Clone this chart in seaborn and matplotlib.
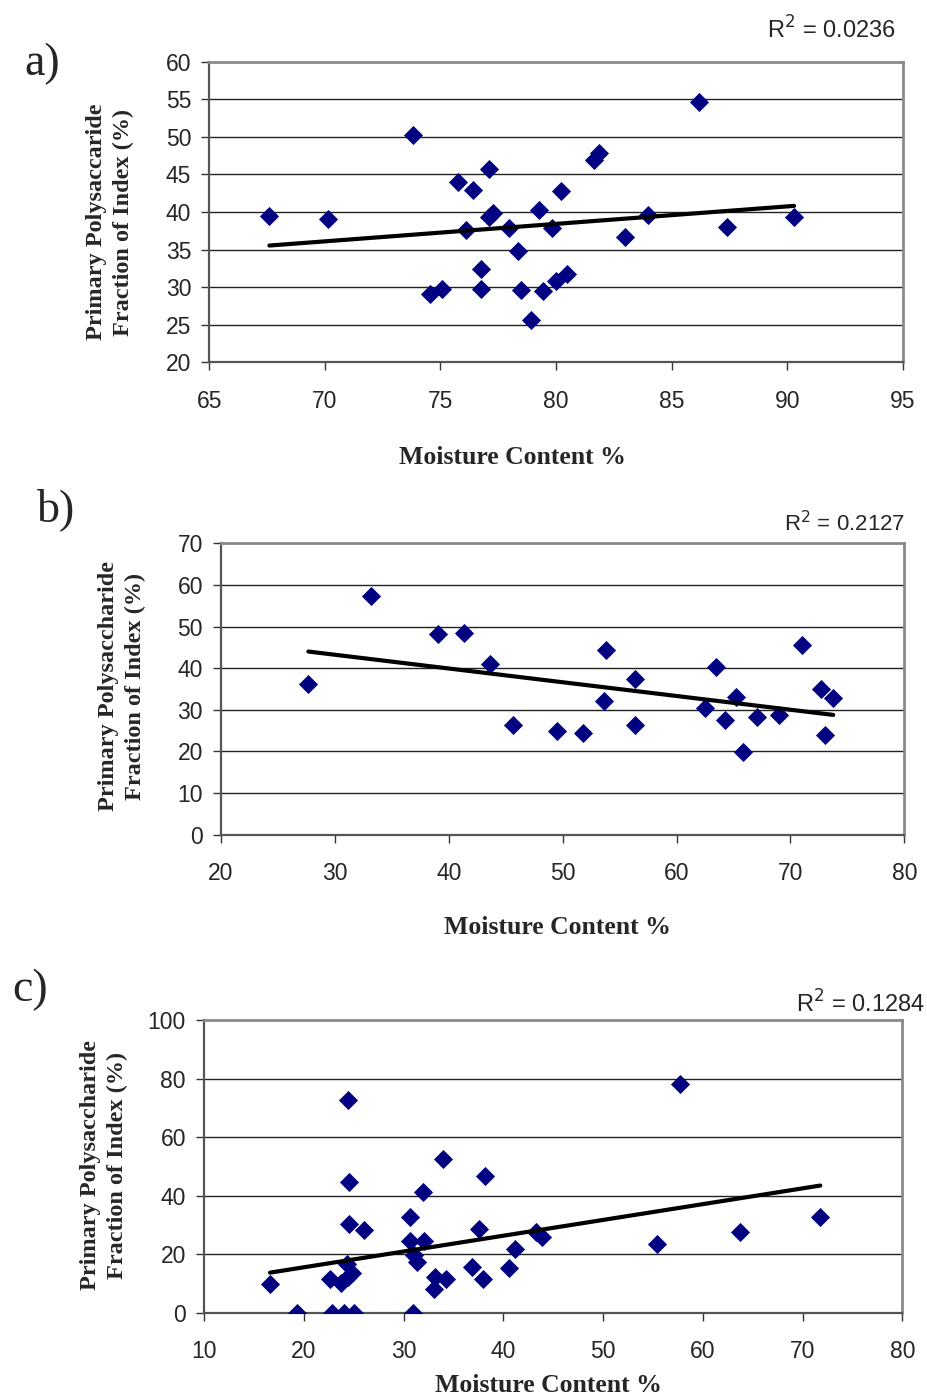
import matplotlib
matplotlib.use("Agg")
import matplotlib.pyplot as plt
import seaborn as sns
import pandas as pd

# ---------------- data ----------------
a_x = [67.60, 70.12, 73.83, 75.77, 76.40, 77.09, 77.26, 77.12, 76.09, 77.98,
       79.25, 79.82, 80.21, 78.34, 76.76, 74.55, 75.08, 76.76, 78.49, 79.43,
       80.00, 78.92, 80.49, 81.66, 81.88, 83.00, 84.00, 86.20, 87.40, 90.30]
a_y = [39.48, 39.12, 50.21, 44.00, 42.98, 45.77, 39.92, 39.39, 37.62, 37.85,
       40.28, 37.89, 42.81, 34.87, 32.39, 29.11, 29.73, 29.73, 29.64, 29.50,
       30.84, 25.65, 31.81, 46.93, 47.90, 36.65, 39.61, 54.60, 38.06, 39.35]

b_x = [27.67, 33.14, 39.08, 41.36, 43.65, 45.60, 49.50, 51.76, 53.78, 53.65,
       56.38, 56.38, 62.52, 63.49, 64.25, 65.22, 65.80, 67.06, 69.02, 70.98,
       72.68, 73.00, 73.76]
b_y = [36.20, 57.40, 48.14, 48.50, 40.93, 26.28, 24.90, 24.43, 44.37, 32.19,
       37.47, 26.28, 30.43, 40.36, 27.48, 33.15, 19.87, 28.35, 28.83, 45.50,
       35.07, 24.02, 32.76]

c_x = [16.62, 19.35, 22.80, 24.00, 25.06, 31.00, 24.40, 24.50, 24.50, 26.07,
       22.60, 23.70, 24.30, 24.80, 24.40, 30.70, 31.98, 33.93, 38.20, 30.70,
       32.05, 31.10, 31.37, 33.20, 34.24, 33.07, 37.52, 36.90, 38.00, 40.60,
       41.20, 43.30, 43.90, 55.38, 57.67, 63.76, 71.78]
c_y = [9.80, 0.00, 0.00, 0.00, 0.00, 0.00, 72.60, 44.55, 30.20, 28.25,
       11.40, 10.00, 16.50, 13.50, 12.30, 32.80, 41.30, 52.60, 46.60, 24.60,
       24.60, 19.70, 17.20, 12.30, 11.60, 8.00, 28.70, 15.50, 11.40, 15.20,
       21.70, 27.50, 25.70, 23.60, 78.10, 27.70, 32.70]

panel_labels = ["a)", "b)", "c)"]
r2_texts = ["0.0236", "0.2127", "0.1284"]
ylabels = ["Primary Polysaccaride\nFraction of Index (%)",
           "Primary Polysaccharide\nFraction of Index (%)",
           "Primary Polysaccharide\nFraction of Index (%)"]
xlabel = "Moisture Content %"
x_ticks = [[65, 70, 75, 80, 85, 90, 95],
           [20, 30, 40, 50, 60, 70, 80],
           [10, 20, 30, 40, 50, 60, 70, 80]]
y_ticks = [[20, 25, 30, 35, 40, 45, 50, 55, 60],
           [0, 10, 20, 30, 40, 50, 60, 70],
           [0, 20, 40, 60, 80, 100]]

# ---------------- style ----------------
sns.set_style("white")
plt.rcParams['font.family'] = ['Liberation Sans', 'DejaVu Sans']

W, H = 928, 1399
fig = plt.figure(figsize=(W / 100, H / 100), dpi=100)

def fx(px):
    return px / W

def fy(py):
    return 1 - py / H

# axes boxes in pixels: left, right, top, bottom
boxes = [(209.3, 902.7, 61.7, 362.3),
         (221.0, 904.3, 543.3, 834.7),
         (204.0, 902.3, 1020.0, 1312.7)]
label_pos = [(42, 64), (56, 510), (30, 990)]
r2_pos = [(896, 30), (905, 524), (925, 1004)]
r2_size = [17, 16, 17]
ylab_pos = [(110, 222), (122, 686), (104, 1165)]
xlab_pos = [(512, 457), (557, 927), (548, 1386)]

datasets = [(a_x, a_y), (b_x, b_y), (c_x, c_y)]
serif = ['Liberation Serif', 'DejaVu Serif']

for i, (xs, ys) in enumerate(datasets):
    l, r, t, b = boxes[i]
    ax = fig.add_axes([fx(l), fy(b), (r - l) / W, (b - t) / H])
    df = pd.DataFrame({"x": xs, "y": ys})
    ax.set_axisbelow(True)
    for yt in y_ticks[i][1:-1]:
        ax.axhline(yt, color="#222222", lw=1.0, zorder=0)
    sns.scatterplot(data=df, x="x", y="y", ax=ax, marker="D", s=95,
                    color="#000080", linewidth=0, zorder=3)
    sns.regplot(data=df, x="x", y="y", ax=ax, scatter=False, ci=None,
                truncate=True, line_kws={"color": "black", "lw": 3.0,
                                         "solid_capstyle": "round", "zorder": 4})
    ax.set_xlim(x_ticks[i][0], x_ticks[i][-1])
    ax.set_ylim(y_ticks[i][0], y_ticks[i][-1])
    ax.set_xticks(x_ticks[i])
    ax.set_yticks(y_ticks[i])
    ax.set_xlabel("")
    ax.set_ylabel("")
    ax.tick_params(axis="both", direction="out", length=6, width=1,
                   color="#333333", labelsize=16.5)
    ax.tick_params(axis="x", pad=14)
    ax.tick_params(axis="y", pad=7)
    ax.tick_params(left=True, bottom=True)
    for side in ["top", "right"]:
        ax.spines[side].set_color("#8a8a8a")
        ax.spines[side].set_linewidth(2)
    for side in ["left", "bottom"]:
        ax.spines[side].set_color("#555555")
        ax.spines[side].set_linewidth(1.6)

    # texts
    px, py = label_pos[i]
    fig.text(fx(px), fy(py), panel_labels[i], family=serif, fontsize=33,
             ha="center", va="center")
    px, py = r2_pos[i]
    fig.text(fx(px), fy(py), r"R$^2$ = " + r2_texts[i], fontsize=r2_size[i],
             ha="right", va="center")
    px, py = ylab_pos[i]
    fig.text(fx(px), fy(py), ylabels[i], family=serif, fontsize=17.5,
             fontweight="bold", rotation=90, ha="center", va="center",
             linespacing=1.32)
    px, py = xlab_pos[i]
    fig.text(fx(px), fy(py), xlabel, family=serif, fontsize=18.5,
             fontweight="bold", ha="center", va="center")

fig.savefig("out.png", dpi=100)
